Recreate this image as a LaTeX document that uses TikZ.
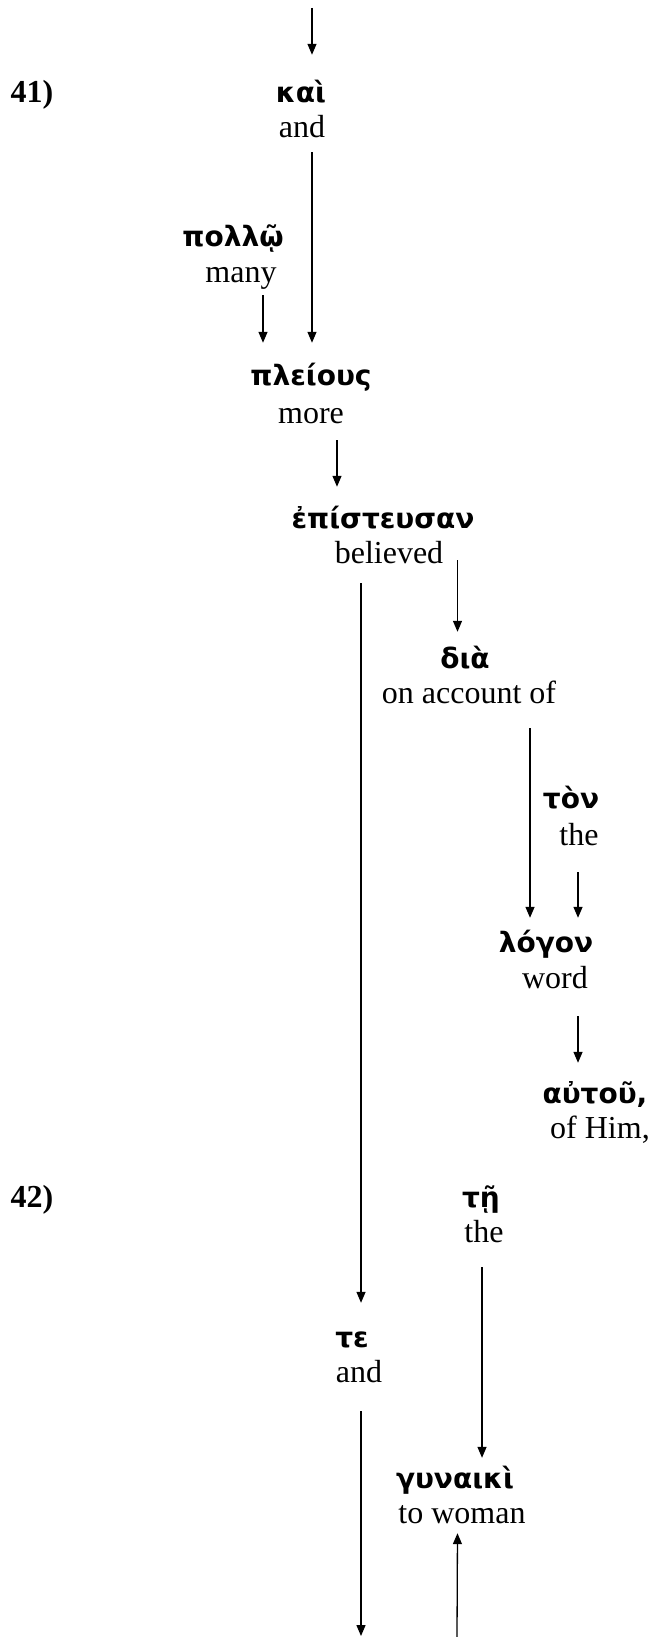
\documentclass[tikz,border=0pt]{standalone}
\usepackage{fontspec}
\setmainfont{Liberation Serif}
\newfontfamily\gk{DejaVu Sans}[BoldFont={DejaVu Sans Bold}]
\usetikzlibrary{arrows.meta}
\tikzset{
  en/.style={anchor=base, inner sep=0pt, text height=22pt, text depth=7pt, font=\fontsize{32}{38}\selectfont},
  gr/.style={anchor=base, inner sep=0pt, text height=22pt, text depth=7pt, font=\gk\bfseries\fontsize{28}{33}\selectfont},
  num/.style={anchor=base, inner sep=0pt, font=\bfseries\fontsize{32}{38}\selectfont},
  arr/.style={-{Triangle[length=11pt,width=9pt]}, line width=1.3pt},
  gaps/.style 2 args={shorten <=#1pt, shorten >=#2pt}
}
\begin{document}
\begin{tikzpicture}[x=1pt,y=-1pt]
\useasboundingbox (0,0) rectangle (649,1637);
% columns for connectors
\coordinate (c263) at (263,0);
\coordinate (c312) at (312,0);
\coordinate (c337) at (337,0);
\coordinate (c361) at (361,0);
\coordinate (c457) at (457.5,0);
\coordinate (c482) at (482,0);
\coordinate (c530) at (530,0);
\coordinate (c578) at (578,0);
\coordinate (topin) at (312,8);
\coordinate (botout) at (361,1636);
\coordinate (botin) at (457,1637);
% verse numbers
\node[num] (n41) at (32,103) {41)};
\node[num] (n42) at (32,1207) {42)};
% words
\node[gr] (gKai) at (301,103) {καὶ};
\node[en] (eKai) at (302,138) {and};
\node[gr] (gPol) at (233,247) {πολλῷ};
\node[en] (ePol) at (241,282) {many};
\node[gr] (gPle) at (311,385) {πλείους};
\node[en] (ePle) at (311,423) {more};
\node[gr] (gEpi) at (383,528) {ἐπίστευσαν};
\node[en] (eEpi) at (389,563) {believed};
\node[gr] (gDia) at (465,668) {διὰ};
\node[en] (eDia) at (469,703) {on account of};
\node[gr] (gTon) at (571,808) {τὸν};
\node[en] (eTon) at (579,845) {the};
\node[gr] (gLog) at (546,952) {λόγον};
\node[en] (eLog) at (555,988) {word};
\node[gr] (gAut) at (595,1103) {αὐτοῦ,};
\node[en] (eAut) at (600,1138) {of Him,};
\node[gr] (gTei) at (481,1207) {τῇ};
\node[en] (eTei) at (484,1242) {the};
\node[gr] (gTe) at (352,1347) {τε};
\node[en] (eTe) at (359,1382) {and};
\node[gr] (gGun) at (455,1488) {γυναικὶ};
\node[en] (eGun) at (462,1523) {to woman};
% connectors
\draw[arr, gaps={0}{26}] (topin) -- (c312 |- gKai.north);
\draw[arr, gaps={7}{20}] (c312 |- eKai.south) -- (c312 |- gPle.north);
\draw[arr, gaps={6}{20}] (c263 |- ePol.south) -- (c263 |- gPle.north);
\draw[arr, gaps={10}{19}] (c337 |- ePle.south) -- (c337 |- gEpi.north);
\draw[arr, gaps={4.5}{14}] (c457 |- eEpi.center) -- (c457 |- gDia.north);
\draw[arr, gaps={13}{22}] (c361 |- eEpi.south) -- (c361 |- gTe.north);
\draw[arr, gaps={18}{12}] (c530 |- eDia.south) -- (c530 |- gLog.north);
\draw[arr, gaps={20}{12}] (c578 |- eTon.south) -- (c578 |- gLog.north);
\draw[arr, gaps={21}{18}] (c578 |- eLog.south) -- (c578 |- gAut.north);
\draw[arr, gaps={18}{8}] (c482 |- eTei.south) -- (c482 |- gGun.north);
\draw[arr, gaps={22}{0}] (c361 |- eTe.south) -- (botout);
\draw[arr, gaps={0}{3}] (botin) -- (c457 |- eGun.south);
\end{tikzpicture}
\end{document}
